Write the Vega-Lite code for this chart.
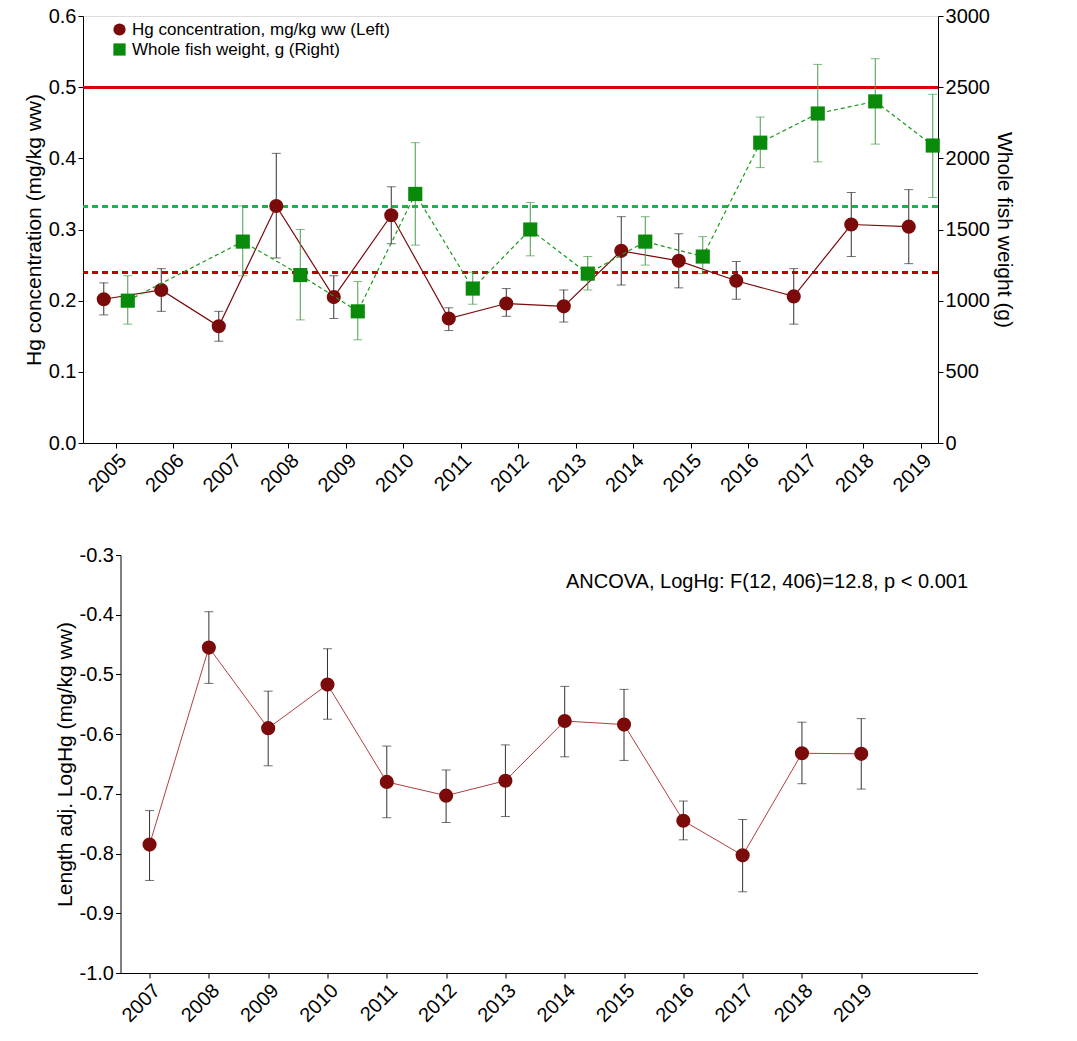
{
"$schema":"https://vega.github.io/schema/vega-lite/v6.json",
"padding":{"left":22,"top":5,"right":5,"bottom":0},
"center":true,
"config":{"font":"Liberation Sans","axis":{"labelFontSize":20,"titleFontSize":21,"titleFontWeight":"normal","grid":false,"domainColor":"#000","tickColor":"#000","labelColor":"#000","titleColor":"#000"},"legend":{"labelFontSize":17,"labelLimit":0}},
"datasets":{
"top":[
{"year":2005,"hg":0.202,"hglo":0.18,"hghi":0.225,"wt":1000,"wtlo":835,"wthi":1175},
{"year":2006,"hg":0.215,"hglo":0.185,"hghi":0.245,"wt":null,"wtlo":null,"wthi":null},
{"year":2007,"hg":0.164,"hglo":0.143,"hghi":0.185,"wt":1415,"wtlo":1175,"wthi":1665},
{"year":2008,"hg":0.333,"hglo":0.26,"hghi":0.407,"wt":1180,"wtlo":865,"wthi":1500},
{"year":2009,"hg":0.205,"hglo":0.175,"hghi":0.235,"wt":925,"wtlo":725,"wthi":1135},
{"year":2010,"hg":0.32,"hglo":0.28,"hghi":0.36,"wt":1750,"wtlo":1390,"wthi":2110},
{"year":2011,"hg":0.175,"hglo":0.158,"hghi":0.19,"wt":1085,"wtlo":975,"wthi":1200},
{"year":2012,"hg":0.196,"hglo":0.178,"hghi":0.217,"wt":1500,"wtlo":1315,"wthi":1690},
{"year":2013,"hg":0.192,"hglo":0.17,"hghi":0.215,"wt":1190,"wtlo":1075,"wthi":1310},
{"year":2014,"hg":0.27,"hglo":0.222,"hghi":0.318,"wt":1415,"wtlo":1250,"wthi":1590},
{"year":2015,"hg":0.256,"hglo":0.218,"hghi":0.294,"wt":1310,"wtlo":1190,"wthi":1450},
{"year":2016,"hg":0.228,"hglo":0.202,"hghi":0.255,"wt":2110,"wtlo":1935,"wthi":2290},
{"year":2017,"hg":0.206,"hglo":0.167,"hghi":0.245,"wt":2315,"wtlo":1975,"wthi":2660},
{"year":2018,"hg":0.307,"hglo":0.262,"hghi":0.352,"wt":2400,"wtlo":2100,"wthi":2700},
{"year":2019,"hg":0.304,"hglo":0.252,"hghi":0.356,"wt":2090,"wtlo":1725,"wthi":2450}],
"bottom":[
{"year":2007,"v":-0.785,"lo":-0.845,"hi":-0.728},
{"year":2008,"v":-0.455,"lo":-0.515,"hi":-0.395},
{"year":2009,"v":-0.59,"lo":-0.653,"hi":-0.528},
{"year":2010,"v":-0.517,"lo":-0.575,"hi":-0.457},
{"year":2011,"v":-0.68,"lo":-0.74,"hi":-0.62},
{"year":2012,"v":-0.703,"lo":-0.748,"hi":-0.66},
{"year":2013,"v":-0.678,"lo":-0.738,"hi":-0.618},
{"year":2014,"v":-0.578,"lo":-0.638,"hi":-0.52},
{"year":2015,"v":-0.584,"lo":-0.644,"hi":-0.525},
{"year":2016,"v":-0.745,"lo":-0.777,"hi":-0.712},
{"year":2017,"v":-0.803,"lo":-0.864,"hi":-0.743},
{"year":2018,"v":-0.632,"lo":-0.683,"hi":-0.58},
{"year":2019,"v":-0.633,"lo":-0.692,"hi":-0.574}]},
"spacing":48,
"vconcat":[
{"width":855,"height":427,"data":{"name":"top"},
"layer":[
{"layer":[
{"mark":{"type":"rule","color":"#e00000","strokeWidth":2},"encoding":{"y":{"datum":0.5,"type":"quantitative"}}},
{"mark":{"type":"rule","color":"#c00000","strokeWidth":2,"strokeDash":[6,4]},"encoding":{"y":{"datum":0.24,"type":"quantitative"}}},
{"mark":{"type":"rule","color":"#20b050","strokeWidth":2,"strokeDash":[6,4]},"encoding":{"y":{"datum":0.332,"type":"quantitative"}}},
{"encoding":{"x":{"field":"year","type":"quantitative","scale":{"domain":[2004.43,2019.3],"nice":false,"zero":false},"axis":{"values":[2005,2006,2007,2008,2009,2010,2011,2012,2013,2014,2015,2016,2017,2018,2019],"format":"d","labelAngle":-45,"title":null,"labelAlign":"right","labelBaseline":"top"}}},
"layer":[
{"mark":{"type":"rule","color":"#333","xOffset":-12},"encoding":{"y":{"field":"hglo","type":"quantitative"},"y2":{"field":"hghi"}}},
{"mark":{"type":"tick","color":"#333","orient":"horizontal","size":9,"thickness":1,"xOffset":-12},"encoding":{"y":{"field":"hglo","type":"quantitative"}}},
{"mark":{"type":"tick","color":"#333","orient":"horizontal","size":9,"thickness":1,"xOffset":-12},"encoding":{"y":{"field":"hghi","type":"quantitative"}}},
{"mark":{"type":"line","color":"#7b0a0a","strokeWidth":1.2,"xOffset":-12},"encoding":{"y":{"field":"hg","type":"quantitative"}}},
{"mark":{"type":"point","filled":true,"size":200,"opacity":1,"xOffset":-12},"encoding":{"y":{"field":"hg","type":"quantitative","scale":{"domain":[0,0.6],"nice":false},"axis":{"title":"Hg concentration (mg/kg ww)","format":".1f","values":[0,0.1,0.2,0.3,0.4,0.5,0.6]}},
"color":{"datum":"Hg concentration, mg/kg ww (Left)","type":"nominal","scale":{"domain":["Hg concentration, mg/kg ww (Left)","Whole fish weight, g (Right)"],"range":["#7b0a0a","#0a8a0a"]},"legend":{"title":null,"orient":"none","legendX":28,"legendY":5,"symbolSize":150}},
"shape":{"datum":"Hg concentration, mg/kg ww (Left)","type":"nominal","scale":{"domain":["Hg concentration, mg/kg ww (Left)","Whole fish weight, g (Right)"],"range":["circle","square"]},"legend":null}}}]}]},
{"transform":[{"filter":"datum.wt != null"}],
"encoding":{"x":{"field":"year","type":"quantitative"}},
"layer":[
{"mark":{"type":"rule","color":"#4a9a4a","xOffset":12},"encoding":{"y":{"field":"wtlo","type":"quantitative"},"y2":{"field":"wthi"}}},
{"mark":{"type":"tick","color":"#4a9a4a","orient":"horizontal","size":9,"thickness":1,"xOffset":12},"encoding":{"y":{"field":"wtlo","type":"quantitative"}}},
{"mark":{"type":"tick","color":"#4a9a4a","orient":"horizontal","size":9,"thickness":1,"xOffset":12},"encoding":{"y":{"field":"wthi","type":"quantitative"}}},
{"mark":{"type":"line","color":"#1a9a1a","strokeWidth":1.2,"strokeDash":[4,3],"xOffset":12},"encoding":{"y":{"field":"wt","type":"quantitative"}}},
{"mark":{"type":"point","filled":true,"size":200,"opacity":1,"xOffset":12},"encoding":{"y":{"field":"wt","type":"quantitative","scale":{"domain":[0,3000],"nice":false},"axis":{"orient":"right","title":"Whole fish weight (g)","format":"d","values":[0,500,1000,1500,2000,2500,3000]}},
"color":{"datum":"Whole fish weight, g (Right)","type":"nominal"},
"shape":{"datum":"Whole fish weight, g (Right)","type":"nominal"}}}]}],
"resolve":{"scale":{"y":"independent"}}},
{"width":857,"height":418,"data":{"name":"bottom"},"view":{"stroke":null},
"layer":[
{"encoding":{"x":{"field":"year","type":"quantitative","scale":{"domain":[2006.51,2020.96],"nice":false,"zero":false},"axis":{"values":[2007,2008,2009,2010,2011,2012,2013,2014,2015,2016,2017,2018,2019],"format":"d","labelAngle":-45,"title":null,"labelAlign":"right","labelBaseline":"top"}}},
"layer":[
{"mark":{"type":"rule","color":"#333"},"encoding":{"y":{"field":"lo","type":"quantitative"},"y2":{"field":"hi"}}},
{"mark":{"type":"tick","color":"#333","orient":"horizontal","size":9,"thickness":1},"encoding":{"y":{"field":"lo","type":"quantitative"}}},
{"mark":{"type":"tick","color":"#333","orient":"horizontal","size":9,"thickness":1},"encoding":{"y":{"field":"hi","type":"quantitative"}}},
{"mark":{"type":"line","color":"#b04040","strokeWidth":1},"encoding":{"y":{"field":"v","type":"quantitative"}}},
{"mark":{"type":"circle","size":200,"color":"#7b0a0a","opacity":1},"encoding":{"y":{"field":"v","type":"quantitative","scale":{"domain":[-1,-0.3],"nice":false,"zero":false},"axis":{"title":"Length adj. LogHg (mg/kg ww)","labelExpr":"replace(format(datum.value, '.1f'), '\u2212', '-')","values":[-1,-0.9,-0.8,-0.7,-0.6,-0.5,-0.4,-0.3]}}}}]},
{"data":{"values":[{"t":"ANCOVA, LogHg: F(12, 406)=12.8, p < 0.001"}]},"mark":{"type":"text","fontSize":20,"align":"right","color":"#000"},"encoding":{"text":{"field":"t"},"x":{"datum":2020.8,"type":"quantitative"},"y":{"datum":-0.345,"type":"quantitative"}}}]}]}
